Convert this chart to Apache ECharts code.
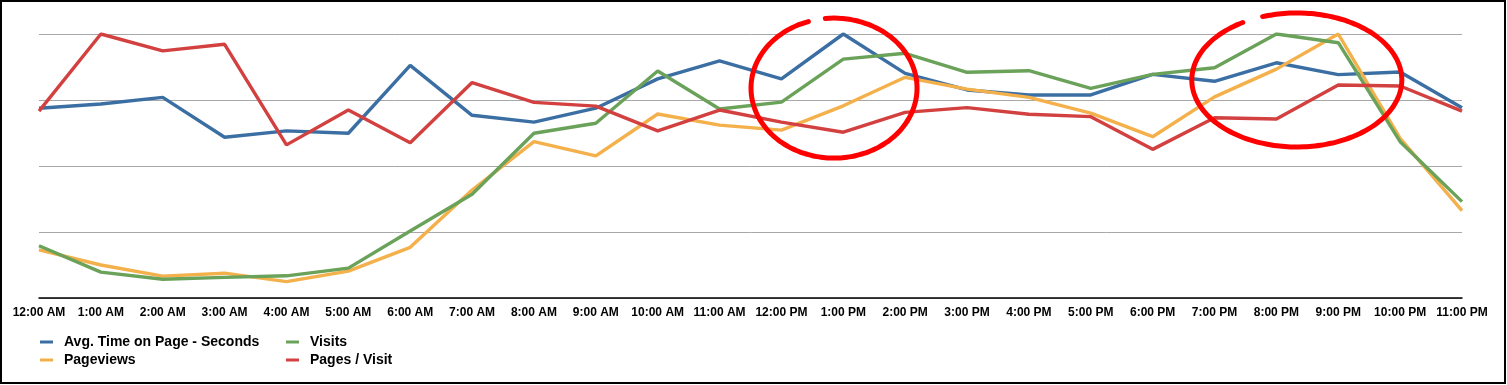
<!DOCTYPE html>
<html>
<head>
<meta charset="utf-8">
<script src="https://cdn.jsdelivr.net/npm/echarts@6/dist/echarts.min.js"></script>
<style>
html,body{margin:0;padding:0;background:#fff;}
#chart{width:1507px;height:385px;}
</style>
</head>
<body>
<div id="chart"></div>
<script>
const categories = ["12:00 AM","1:00 AM","2:00 AM","3:00 AM","4:00 AM","5:00 AM","6:00 AM","7:00 AM","8:00 AM","9:00 AM","10:00 AM","11:00 AM","12:00 PM","1:00 PM","2:00 PM","3:00 PM","4:00 PM","5:00 PM","6:00 PM","7:00 PM","8:00 PM","9:00 PM","10:00 PM","11:00 PM"];
// values normalised to each series' peak = 100 (chart has no value labels)
const avgTimeOnPage = [71.9,73.5,76.0,60.9,63.3,62.4,88.1,69.2,66.6,71.9,83.0,89.8,83.0,100,85.1,78.8,76.9,76.9,84.7,82.1,89.1,84.6,85.6,72.1];
const pageviews     = [18.2,12.5,8.3,9.4,6.2,10.2,19.2,40.9,59.2,53.8,69.7,65.5,63.6,72.8,83.6,79.1,76.0,70.0,61.1,76.2,86.7,100,60.5,33.1];
const visits        = [19.8,9.8,7.1,7.8,8.4,11.3,25.4,39.3,62.4,66.2,86.0,71.6,74.2,90.5,92.7,85.5,86.1,79.4,84.7,87.2,100,96.7,59.2,36.5];
const pagesPerVisit = [70.8,100,93.6,96.1,58.0,71.2,58.8,81.6,74.1,72.7,63.3,71.2,66.6,62.8,70.3,72.1,69.6,68.7,56.3,68.3,67.8,80.7,80.3,70.8];
// annotation rings: centre [fractional category index, value], radii in px, gap angles
const annotations = [
  {center:[12.85,79.5], rx:83, ry:70, start:-96, end:254},
  {center:[20.33,82.6], rx:105, ry:67, start:-109, end:239}
];

const colors = {blue:'#3b6fa3', orange:'#f4b04a', green:'#6aa25a', red:'#d24140'};
const chart = echarts.init(document.getElementById('chart'));
const FONT = '"Liberation Sans", Arial, Helvetica, sans-serif';
function line(name, data, color){
  return {name, type:'line', data, symbol:'none', smooth:false,
    lineStyle:{color, width:3.4}, itemStyle:{color}, emphasis:{disabled:true}};
}
const legendCommon = {orient:'vertical', top:334, padding:0, icon:'rect', itemWidth:13, itemHeight:3, itemGap:2,
  textStyle:{fontFamily:FONT, fontWeight:'bold', fontSize:14, color:'#000', lineHeight:16, padding:[0,0,0,6]},
  selectedMode:false};
chart.setOption({
  animation:false,
  grid:{left:39, right:45, top:34, bottom:87, containLabel:false},
  xAxis:{type:'category', data:categories, boundaryGap:false,
    axisLine:{lineStyle:{color:'#000', width:1.5}}, axisTick:{show:false},
    axisLabel:{color:'#000', fontFamily:FONT, fontWeight:'bold', fontSize:12, margin:9, interval:0},
    splitLine:{show:false}},
  yAxis:{type:'value', min:0, max:100, interval:25, axisLabel:{show:false}, axisLine:{show:false}, axisTick:{show:false},
    splitLine:{lineStyle:{color:'#a8a8a8', width:1}}},
  legend:[
    Object.assign({left:40, data:['Avg. Time on Page - Seconds','Pageviews']}, legendCommon),
    Object.assign({left:286, data:['Visits','Pages / Visit']}, legendCommon)
  ],
  series:[
    line('Avg. Time on Page - Seconds', avgTimeOnPage, colors.blue),
    line('Pageviews', pageviews, colors.orange),
    line('Visits', visits, colors.green),
    line('Pages / Visit', pagesPerVisit, colors.red)
  ]
});
const graphics = [{type:'rect', shape:{x:1, y:1, width:1504, height:382}, style:{fill:null, stroke:'#000', lineWidth:2}, z:100}];
annotations.forEach(a => {
  const i0 = Math.floor(a.center[0]), f = a.center[0] - i0;
  const p0 = chart.convertToPixel({gridIndex:0}, [i0, a.center[1]]);
  const p1 = chart.convertToPixel({gridIndex:0}, [i0 + 1, a.center[1]]);
  const c = [p0[0] + (p1[0] - p0[0]) * f, p0[1]];
  const pts = [];
  for (let t = a.start; t <= a.end; t += 3) {
    const r = t*Math.PI/180;
    pts.push([c[0] + a.rx*Math.cos(r), c[1] + a.ry*Math.sin(r)]);
  }
  graphics.push({type:'polyline', shape:{points:pts, smooth:0.3}, style:{stroke:'#ff0000', lineWidth:5, fill:null, lineCap:'round'}, z:100});
});
chart.setOption({graphic:graphics});
</script>
</body>
</html>
